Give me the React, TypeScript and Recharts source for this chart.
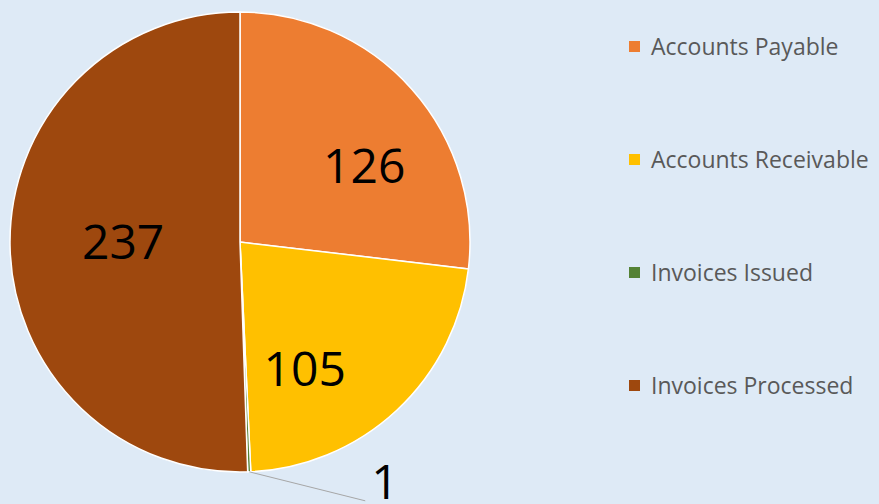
import { PieChart, Pie, Cell, Legend } from "recharts";

const categories = ["Accounts Payable", "Accounts Receivable", "Invoices Issued", "Invoices Processed"];
const values = [126, 105, 1, 237];
const colors = ["#ED7D31", "#FFC000", "#548235", "#9E480E"];

const data = categories.map((name, i) => ({ name, value: values[i] }));

const RAD = Math.PI / 180;
// nudges to match the spreadsheet's label placement
const labelNudge: [number, number][] = [[16, 19], [-34, 20], [0, 0], [28, -4]];

function renderLabel(props: any) {
  const { cx, cy, midAngle, outerRadius, index, value } = props;
  const cos = Math.cos(-midAngle * RAD);
  const sin = Math.sin(-midAngle * RAD);
  if (index === 2) {
    const sx = cx + outerRadius * cos;
    const sy = cy + outerRadius * sin;
    const ex = sx + 116;
    const ey = sy + 29;
    return (
      <g key="lbl-small">
        <line x1={sx} y1={sy} x2={ex} y2={ey} stroke="#a6a6a6" strokeWidth={1} />
        <text x={ex + 6} y={ey - 2} fill="#000" fontSize={48} fontFamily="'Open Sans', sans-serif" textAnchor="start">
          {value}
        </text>
      </g>
    );
  }
  const r = outerRadius * 0.63;
  const [dx, dy] = labelNudge[index];
  return (
    <text
      key={`lbl-${index}`}
      x={cx + r * cos + dx}
      y={cy + r * sin + dy}
      fill="#000"
      fontSize={48}
      fontFamily="'Open Sans', sans-serif"
      textAnchor="middle"
      dominantBaseline="central"
    >
      {value}
    </text>
  );
}

function LegendBox() {
  return (
    <div style={{ fontFamily: "'Open Sans', sans-serif" }}>
      {categories.map((name, i) => (
        <div key={name} style={{ display: "flex", alignItems: "center", height: 24, marginBottom: i < 3 ? 89 : 0 }}>
          <span style={{ width: 11, height: 11, background: colors[i], display: "inline-block", marginRight: 11 }} />
          <span style={{ fontSize: 23, color: "#595959", whiteSpace: "nowrap" }}>{name}</span>
        </div>
      ))}
    </div>
  );
}

export default function App() {
  return (
    <div style={{ position: "absolute", left: 0, top: 0, width: 879, height: 504, background: "#DEEAF6", overflow: "hidden" }}>
      <PieChart width={879} height={504} margin={{ top: 0, right: 0, bottom: 0, left: 0 }}>
        <Pie
          data={data}
          dataKey="value"
          nameKey="name"
          cx={240}
          cy={242}
          outerRadius={230}
          startAngle={90}
          endAngle={-270}
          stroke="#ffffff"
          strokeWidth={1.5}
          label={renderLabel}
          labelLine={false}
          isAnimationActive={false}
        >
          {data.map((d, i) => (
            <Cell key={d.name} fill={colors[i]} />
          ))}
        </Pie>
        <Legend content={() => <LegendBox />} wrapperStyle={{ position: "absolute", left: 629, top: 34, width: 250 }} />
      </PieChart>
    </div>
  );
}
